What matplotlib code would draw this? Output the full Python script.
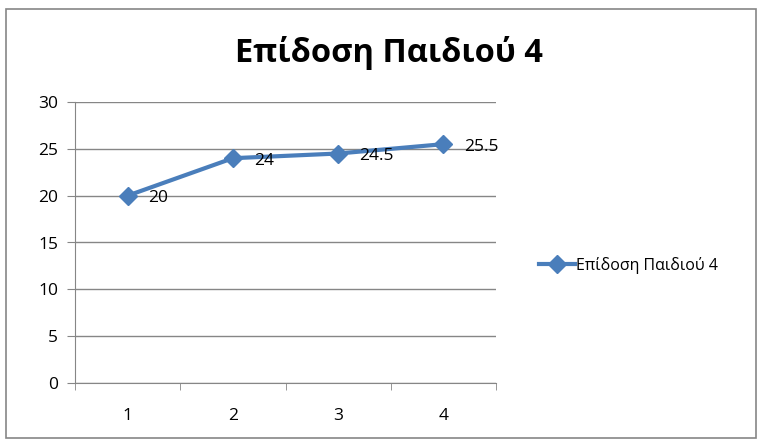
import matplotlib.pyplot as plt
from matplotlib.patches import Rectangle

plt.rcParams['font.family'] = ['Open Sans', 'DejaVu Sans']

categories = ['1', '2', '3', '4']
scores = [20, 24, 24.5, 25.5]
series_name = 'Επίδοση Παιδιού 4'
title = 'Επίδοση Παιδιού 4'

line_color = '#4A7EBB'
grid_color = '#868686'

fig = plt.figure(figsize=(7.62, 4.48), dpi=100)
ax = fig.add_axes([75 / 762, 1 - 383 / 448, (496 - 75) / 762, (383 - 102) / 448])

x = list(range(1, len(categories) + 1))
ax.plot(x, scores, color=line_color, linewidth=3, marker='D', markersize=9,
        label=series_name, zorder=3)
for xi, v in zip(x, scores):
    ax.annotate(f'{v:g}', (xi, v), xytext=(15, -2), textcoords='offset points',
                ha='left', va='center', fontsize=12.5)

ax.set_xlim(0.5, 4.5)
ax.set_ylim(0, 30)
ax.set_yticks(range(0, 31, 5))
ax.set_xticks(x)
ax.set_xticklabels(categories)
ax.set_xticks([0.5, 1.5, 2.5, 3.5, 4.5], minor=True)
ax.tick_params(axis='x', which='major', length=0, pad=18, labelsize=12.5)
ax.tick_params(axis='x', which='minor', length=5, color=grid_color)
ax.tick_params(axis='y', length=6, color=grid_color, labelsize=12.5, pad=6)
ax.grid(axis='y', color=grid_color, linewidth=1)
ax.set_axisbelow(True)
for s in ['top', 'right']:
    ax.spines[s].set_visible(False)
for s in ['left', 'bottom']:
    ax.spines[s].set_color(grid_color)

fig.text(389 / 762, 1 - 53 / 448, title, ha='center', va='center',
         fontsize=23.5, fontweight='bold')

fig.legend(loc='center left', bbox_to_anchor=(525 / 762, 1 - 265 / 448),
           frameon=False, fontsize=11.5, handlelength=2.2, handletextpad=0.1)

fig.patches.append(Rectangle((6 / 762, 1 - 438 / 448), 750 / 762, 429 / 448,
                             transform=fig.transFigure, fill=False,
                             edgecolor='#868686', linewidth=1.2))

plt.savefig('out.png', dpi=100)
plt.close()
